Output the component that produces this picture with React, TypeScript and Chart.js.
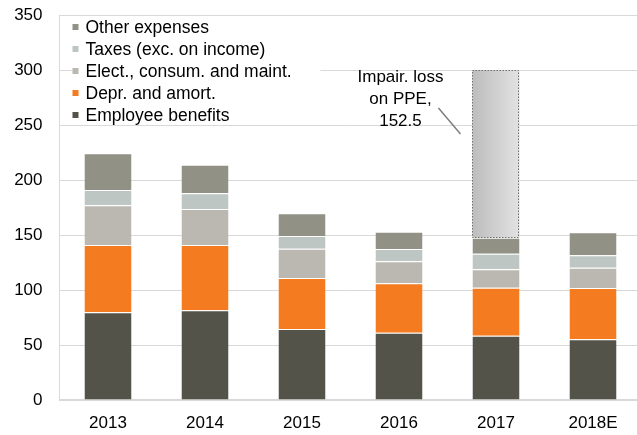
import React, { useEffect, useRef } from 'react';
import { Chart, registerables } from 'chart.js';

Chart.register(...registerables);

const categories = ['2013', '2014', '2015', '2016', '2017', '2018E'];
const employeeBenefits = [79.7, 81.5, 64.5, 61.2, 58.5, 55.2];
const deprAmort = [61.2, 59.4, 46.4, 44.9, 43.6, 46.6];
const electConsumMaint = [36.1, 32.7, 26.6, 20.0, 16.7, 18.5];
const taxesExcIncome = [13.9, 14.3, 11.6, 11.2, 14.2, 11.2];
const otherExpenses = [33.4, 26.0, 20.6, 15.7, 14.5, 21.0];
const impairmentLoss = [null, null, null, null, 152.5, null];

const seriesLabels = [
  'Employee benefits',
  'Depr. and amort.',
  'Elect., consum. and maint.',
  'Taxes (exc. on income)',
  'Other expenses',
];
const seriesColors = ['#54534A', '#F47B20', '#BAB8B0', '#BDC6C3', '#929186'];
const annotationLines = ['Impair. loss', 'on PPE,', '152.5'];

const FONT = '"Liberation Sans", Arial, sans-serif';

export default function App() {
  const canvasRef = useRef<HTMLCanvasElement | null>(null);

  useEffect(() => {
    const canvas = canvasRef.current;
    if (!canvas) return;
    const seriesData = [employeeBenefits, deprAmort, electConsumMaint, taxesExcIncome, otherExpenses];
    const BAR_PCT = 0.485;

    const datasets: any[] = seriesData.map((d, i) => ({
      label: seriesLabels[i],
      data: d,
      backgroundColor: seriesColors[i],
      borderColor: 'rgba(255,255,255,0.9)',
      borderWidth: { top: 1, left: 0, right: 0, bottom: 0 },
      borderSkipped: false,
      stack: 's',
    }));
    datasets.push({
      label: 'Impair. loss on PPE',
      data: impairmentLoss,
      stack: 's',
      borderWidth: 0,
      backgroundColor: (ctx: any) => {
        const chart = ctx.chart;
        const xs = chart.scales?.x;
        if (!xs || !chart.chartArea) return '#cccccc';
        const cx = xs.getPixelForValue(ctx.dataIndex);
        const w = (xs.width / categories.length) * BAR_PCT;
        const g = chart.ctx.createLinearGradient(cx - w / 2, 0, cx + w / 2, 0);
        g.addColorStop(0, '#BDBDBD');
        g.addColorStop(1, '#E2E2E2');
        return g;
      },
    });

    const overlay = {
      id: 'overlay',
      afterDatasetsDraw(chart: any) {
        const ctx = chart.ctx;
        const meta = chart.getDatasetMeta(5);
        const el = meta.data[4];
        let ex = 0;
        let ey = 0;
        let ew = 0;
        if (el) {
          const p = el.getProps(['x', 'y', 'base', 'width'], true);
          ex = p.x; ey = p.y; ew = p.width;
          ctx.save();
          ctx.strokeStyle = '#6f6f6f';
          ctx.lineWidth = 1;
          ctx.setLineDash([1.5, 1.5]);
          ctx.strokeRect(Math.round(p.x - p.width / 2) + 0.5, Math.round(p.y) + 0.5, Math.round(p.width) - 1, Math.round(p.base - p.y) - 1);
          ctx.restore();
        }
        ctx.save();
        ctx.font = `17px ${FONT}`;
        ctx.fillStyle = '#000';
        ctx.textAlign = 'center';
        ctx.textBaseline = 'middle';
        const tx = ex - ew / 2 - 72;
        annotationLines.forEach((t, i) => ctx.fillText(t, tx, ey + 7 + i * 22));
        ctx.strokeStyle = '#7f7f7f';
        ctx.lineWidth = 1.5;
        ctx.beginPath();
        ctx.moveTo(ex - ew / 2 - 34, ey + 38);
        ctx.lineTo(ex - ew / 2 - 12, ey + 64);
        ctx.stroke();
        ctx.restore();
      },
      afterDraw(chart: any) {
        const ctx = chart.ctx;
        const area = chart.chartArea;
        ctx.save();
        ctx.fillStyle = '#ffffff';
        ctx.fillRect(area.left + 13, area.top + 2, 248, 106);
        ctx.font = `17.5px ${FONT}`;
        ctx.textBaseline = 'middle';
        ctx.textAlign = 'left';
        for (let r = 0; r < 5; r++) {
          const si = 4 - r;
          const cy = area.top + 12 + r * 22;
          ctx.fillStyle = seriesColors[si];
          ctx.fillRect(area.left + 13, cy - 3, 6, 6);
          ctx.fillStyle = '#000';
          ctx.fillText(seriesLabels[si], area.left + 26, cy + 1);
        }
        ctx.restore();
      },
    };

    const chart = new Chart(canvas, {
      type: 'bar',
      data: { labels: categories, datasets },
      options: {
        responsive: false,
        animation: false,
        layout: { padding: { top: 15, right: 3.5, left: 0, bottom: 0 } },
        datasets: { bar: { barPercentage: BAR_PCT, categoryPercentage: 1 } },
        plugins: { legend: { display: false }, tooltip: { enabled: false }, title: { display: false } },
        scales: {
          x: {
            stacked: true,
            grid: { display: false, drawTicks: false },
            border: { display: true, color: '#d9d9d9', width: 2 },
            ticks: { color: '#000', font: { family: FONT, size: 17 }, padding: 13 },
            afterFit: (s: any) => { s.height = 35; },
          },
          y: {
            stacked: true,
            min: 0,
            max: 350,
            grid: { color: '#d9d9d9', lineWidth: 1, drawTicks: true, tickLength: 17, tickColor: 'rgba(0,0,0,0)' },
            border: { display: true, color: '#d9d9d9', width: 1 },
            ticks: { stepSize: 50, color: '#000', font: { family: FONT, size: 17 }, padding: 0 },
            afterFit: (s: any) => { s.width = 59.5; },
          },
        },
      },
      plugins: [overlay],
    });
    return () => chart.destroy();
  }, []);

  return (
    <div style={{ position: 'fixed', left: 0, top: 0, width: 637, height: 435, overflow: 'hidden', background: '#fff' }}>
      <canvas ref={canvasRef} width={645} height={435} style={{ width: 645, height: 435, display: 'block' }} />
    </div>
  );
}
